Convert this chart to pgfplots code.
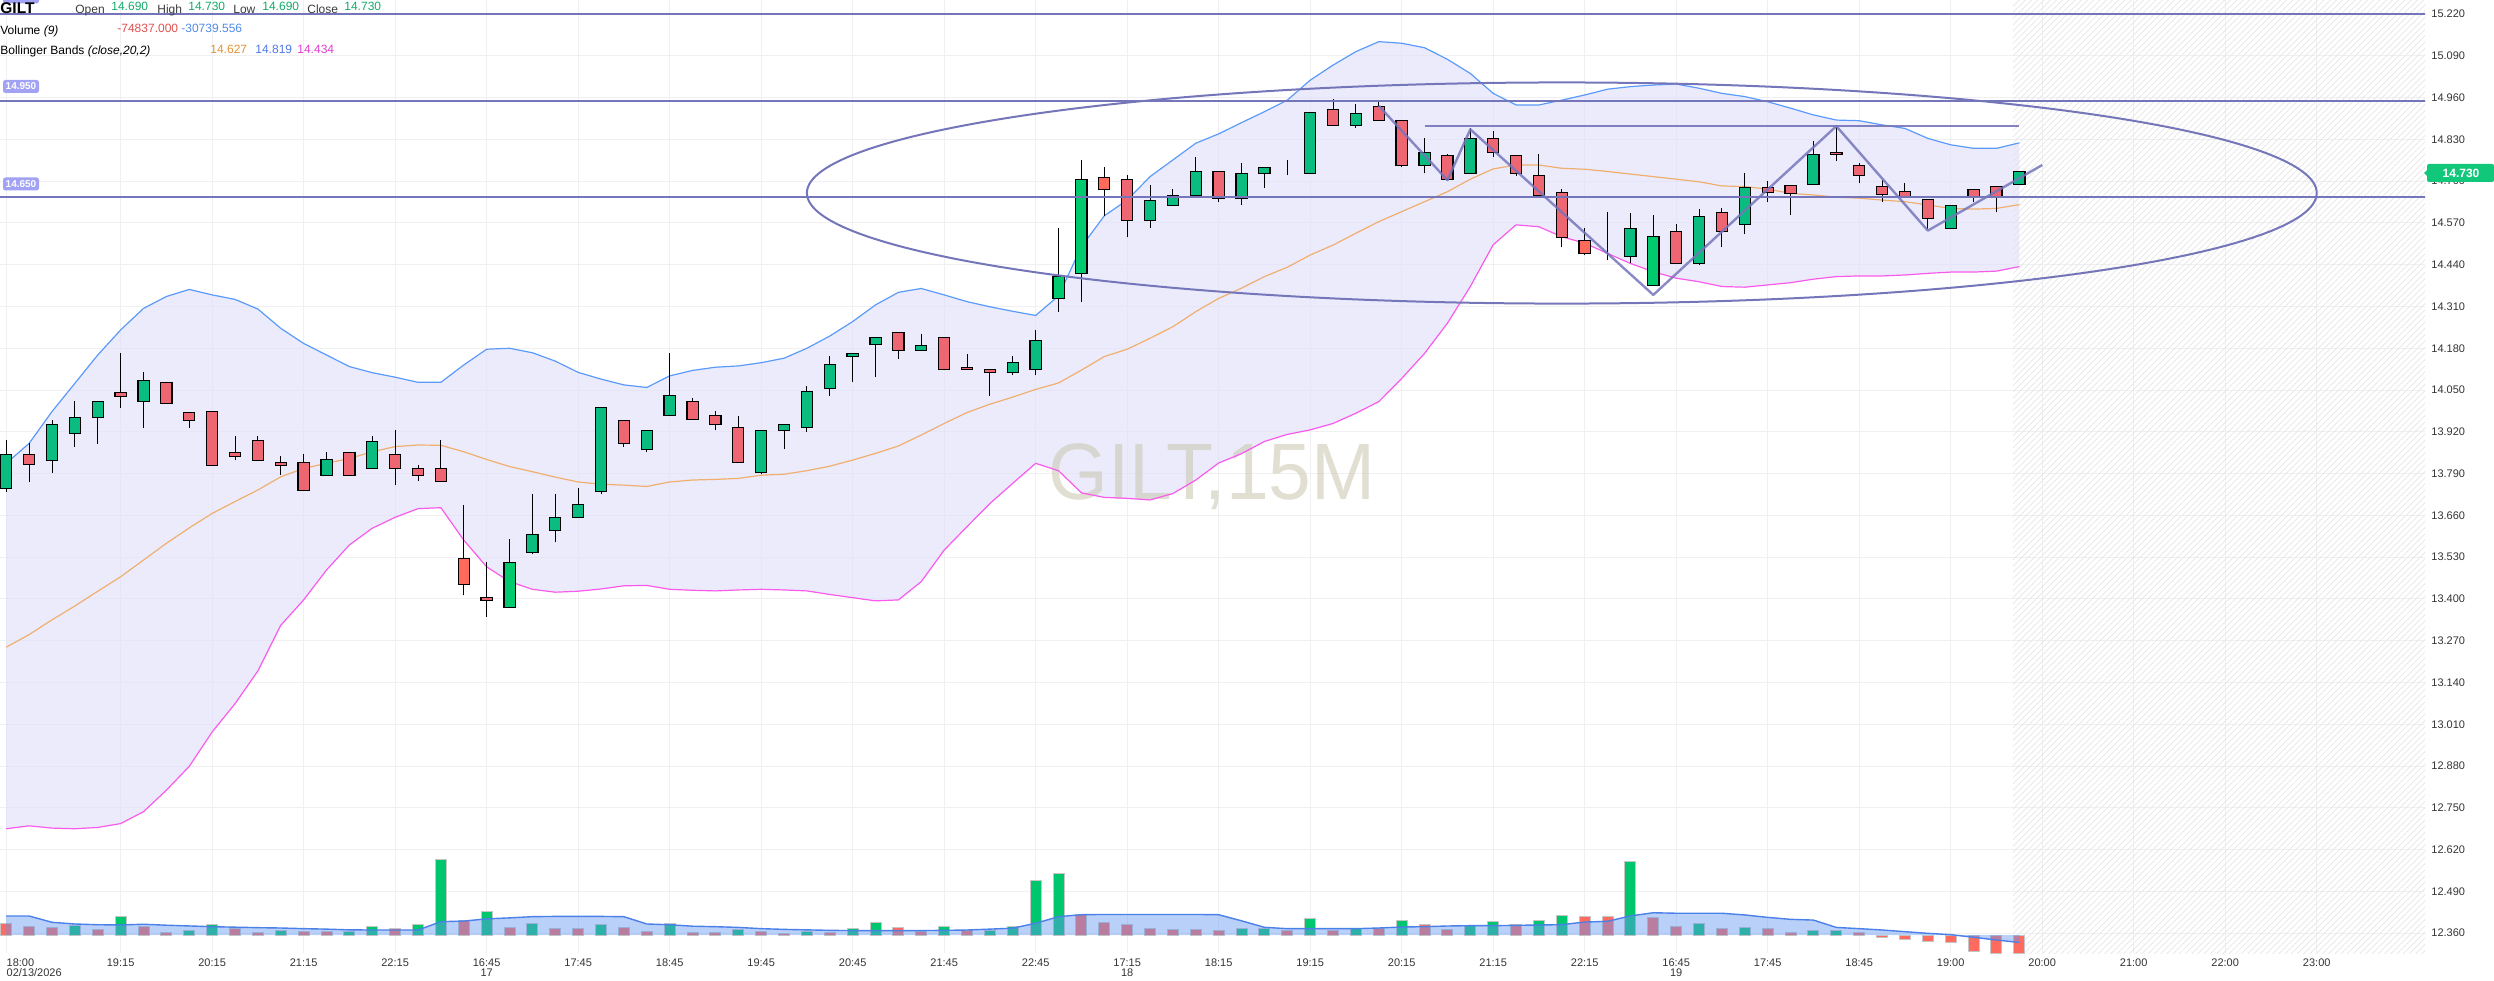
\documentclass[border=0pt]{standalone}
\usepackage{fontspec}
\setmainfont{Liberation Sans}
\usepackage{pgfplots}
\pgfplotsset{compat=1.18}
\usepackage{pgfplotstable}
\usepgfplotslibrary{fillbetween}
\usetikzlibrary{patterns.meta}

\definecolor{gridc}{RGB}{240,240,243}
\definecolor{bbfill}{RGB}{222,222,250}
\definecolor{bbup}{RGB}{90,155,250}
\definecolor{bbmid}{RGB}{240,175,110}
\definecolor{bblo}{RGB}{250,90,235}
\definecolor{cgreen}{RGB}{10,188,128}
\definecolor{cgreenhi}{RGB}{0,202,110}
\definecolor{cred}{RGB}{238,102,114}
\definecolor{credhi}{RGB}{255,106,90}
\definecolor{vgreen}{RGB}{0,198,110}
\definecolor{vred}{RGB}{255,107,94}
\definecolor{vborder}{RGB}{198,198,198}
\definecolor{vma}{RGB}{100,150,240}
\definecolor{vmaline}{RGB}{74,128,232}
\definecolor{tool}{RGB}{117,117,186}
\definecolor{tagc}{RGB}{162,162,245}
\definecolor{lastc}{RGB}{16,199,122}
\definecolor{txt}{RGB}{51,51,51}
\definecolor{legtxt}{RGB}{60,60,60}
\definecolor{hatchc}{RGB}{228,228,228}
\definecolor{wm}{RGB}{205,200,180}
\definecolor{lgreen}{RGB}{20,170,105}
\definecolor{lred}{RGB}{225,80,80}
\definecolor{lblue}{RGB}{80,140,230}
\definecolor{lorange}{RGB}{225,145,50}
\definecolor{lblue2}{RGB}{80,120,230}
\definecolor{lmag}{RGB}{225,60,210}

% 15-minute bars: index, open, high, low, close, highlight flag
\pgfplotstableread{
i o h l c hl
0 13.744 13.894 13.734 13.850 0
1 13.850 13.884 13.765 13.819 0
2 13.831 13.956 13.793 13.943 0
3 13.914 14.015 13.874 13.965 0
4 13.965 14.015 13.883 14.015 0
5 14.043 14.164 13.995 14.030 0
6 14.015 14.105 13.933 14.080 0
7 14.074 14.074 14.009 14.009 0
8 13.980 13.980 13.933 13.956 0
9 13.983 13.983 13.816 13.816 0
10 13.856 13.906 13.831 13.844 0
11 13.894 13.906 13.831 13.831 0
12 13.825 13.844 13.785 13.816 0
13 13.825 13.850 13.738 13.738 0
14 13.785 13.856 13.785 13.834 0
15 13.856 13.856 13.785 13.785 0
16 13.806 13.906 13.806 13.890 0
17 13.850 13.925 13.753 13.806 0
18 13.806 13.816 13.766 13.785 0
19 13.806 13.894 13.766 13.766 0
20 13.526 13.693 13.411 13.445 1
21 13.405 13.514 13.345 13.396 0
22 13.374 13.586 13.374 13.514 1
23 13.545 13.725 13.539 13.601 0
24 13.614 13.725 13.576 13.654 0
25 13.654 13.744 13.654 13.694 0
26 13.735 13.996 13.725 13.996 0
27 13.956 13.956 13.874 13.884 0
28 13.866 13.925 13.856 13.925 0
29 13.971 14.164 13.971 14.034 0
30 14.015 14.024 13.959 13.959 0
31 13.971 13.984 13.925 13.943 0
32 13.934 13.968 13.825 13.825 0
33 13.794 13.925 13.788 13.925 0
34 13.925 13.943 13.866 13.943 0
35 13.934 14.062 13.918 14.046 0
36 14.055 14.155 14.033 14.130 0
37 14.155 14.164 14.074 14.164 0
38 14.192 14.214 14.090 14.214 0
39 14.230 14.230 14.146 14.174 0
40 14.174 14.223 14.174 14.189 0
41 14.214 14.214 14.114 14.114 0
42 14.121 14.161 14.114 14.114 0
43 14.114 14.114 14.033 14.105 0
44 14.105 14.155 14.096 14.136 0
45 14.114 14.236 14.096 14.205 0
46 14.335 14.553 14.294 14.403 1
47 14.413 14.765 14.325 14.706 1
48 14.712 14.743 14.593 14.675 1
49 14.706 14.718 14.525 14.578 0
50 14.578 14.687 14.553 14.640 0
51 14.625 14.675 14.625 14.656 0
52 14.656 14.774 14.656 14.731 0
53 14.731 14.731 14.634 14.647 0
54 14.647 14.755 14.625 14.724 0
55 14.724 14.743 14.678 14.743 0
56 14.734 14.765 14.718 14.734 0
57 14.724 14.914 14.724 14.914 0
58 14.923 14.955 14.874 14.874 0
59 14.874 14.939 14.864 14.911 0
60 14.933 14.951 14.889 14.889 0
61 14.889 14.889 14.743 14.749 0
62 14.749 14.833 14.724 14.790 0
63 14.780 14.783 14.706 14.706 0
64 14.724 14.864 14.724 14.833 0
65 14.833 14.855 14.774 14.790 0
66 14.780 14.780 14.717 14.724 0
67 14.718 14.783 14.656 14.656 0
68 14.665 14.675 14.494 14.525 0
69 14.516 14.553 14.469 14.475 1
70 14.454 14.603 14.454 14.454 0
71 14.466 14.600 14.444 14.553 0
72 14.376 14.594 14.376 14.528 1
73 14.544 14.566 14.444 14.444 0
74 14.444 14.612 14.438 14.590 0
75 14.603 14.615 14.494 14.544 0
76 14.566 14.724 14.535 14.681 0
77 14.681 14.700 14.634 14.665 0
78 14.687 14.687 14.594 14.662 0
79 14.690 14.824 14.690 14.783 0
80 14.790 14.874 14.762 14.783 0
81 14.749 14.755 14.693 14.718 0
82 14.684 14.703 14.634 14.659 0
83 14.668 14.693 14.650 14.650 0
84 14.643 14.643 14.550 14.584 0
85 14.553 14.625 14.553 14.625 0
86 14.675 14.675 14.634 14.650 0
87 14.684 14.684 14.603 14.650 0
88 14.690 14.730 14.690 14.730 0
}\candles

% Bollinger Bands (close,20,2): upper, middle, lower
\pgfplotstableread{
i u m l
0 13.822 13.250 12.685
1 13.884 13.289 12.694
2 13.983 13.335 12.687
3 14.071 13.378 12.685
4 14.159 13.424 12.689
5 14.237 13.469 12.701
6 14.304 13.521 12.738
7 14.341 13.573 12.805
8 14.363 13.621 12.879
9 14.346 13.666 12.986
10 14.332 13.703 13.074
11 14.302 13.739 13.176
12 14.242 13.780 13.318
13 14.195 13.806 13.397
14 14.159 13.822 13.490
15 14.123 13.837 13.568
16 14.104 13.858 13.620
17 14.090 13.874 13.654
18 14.074 13.879 13.681
19 14.074 13.878 13.684
20 14.128 13.858 13.583
21 14.177 13.834 13.500
22 14.180 13.812 13.454
23 14.166 13.796 13.430
24 14.140 13.779 13.421
25 14.105 13.764 13.424
26 14.084 13.757 13.431
27 14.066 13.754 13.441
28 14.058 13.750 13.442
29 14.094 13.764 13.430
30 14.111 13.770 13.427
31 14.121 13.772 13.425
32 14.125 13.775 13.428
33 14.135 13.785 13.430
34 14.149 13.788 13.428
35 14.180 13.799 13.425
36 14.218 13.813 13.414
37 14.263 13.832 13.404
38 14.315 13.853 13.394
39 14.354 13.876 13.397
40 14.366 13.910 13.454
41 14.346 13.946 13.552
42 14.325 13.980 13.625
43 14.309 14.006 13.697
44 14.295 14.028 13.760
45 14.282 14.052 13.822
46 14.343 14.072 13.799
47 14.496 14.112 13.730
48 14.592 14.154 13.716
49 14.641 14.177 13.713
50 14.714 14.211 13.708
51 14.766 14.247 13.728
52 14.818 14.294 13.770
53 14.847 14.335 13.823
54 14.882 14.367 13.852
55 14.916 14.403 13.890
56 14.952 14.432 13.912
57 15.014 14.470 13.926
58 15.061 14.501 13.946
59 15.103 14.538 13.978
60 15.134 14.574 14.014
61 15.129 14.605 14.086
62 15.115 14.636 14.164
63 15.079 14.667 14.258
64 15.035 14.706 14.372
65 14.973 14.738 14.502
66 14.937 14.750 14.564
67 14.937 14.750 14.558
68 14.952 14.740 14.527
69 14.968 14.737 14.507
70 14.986 14.730 14.475
71 14.994 14.722 14.444
72 14.999 14.714 14.418
73 15.002 14.706 14.398
74 14.989 14.698 14.387
75 14.973 14.685 14.372
76 14.963 14.683 14.370
77 14.947 14.675 14.377
78 14.927 14.662 14.384
79 14.906 14.657 14.395
80 14.890 14.650 14.403
81 14.888 14.647 14.405
82 14.875 14.641 14.405
83 14.864 14.636 14.408
84 14.833 14.626 14.413
85 14.813 14.615 14.417
86 14.802 14.613 14.417
87 14.802 14.615 14.420
88 14.819 14.627 14.434
}\bands

% Volume (thousands), rising flag, 9-bar average
\pgfplotstableread{
i v up ma
0 47.7 0 77.7
1 36.8 0 77.7
2 31.4 0 52
3 39.5 1 45
4 23.2 0 42
5 75.0 1 41
6 34.1 0 44
7 10.9 0 40
8 20.4 1 37
9 43.6 1 34
10 27.3 0 32
11 10.9 0 30
12 20.4 1 28.6
13 15.0 0 26
14 15.0 0 24
15 15.0 1 21
16 34.1 1 20.4
17 25.9 0 20.4
18 42.3 1 20.4
19 310.8 1 54.5
20 61.3 0 57
21 95.4 1 66
22 31.4 0 70
23 45.0 1 75
24 27.3 0 76
25 27.3 0 76
26 42.3 1 76
27 31.4 0 75
28 15.0 0 45
29 47.7 1 42
30 10.9 0 36
31 10.9 0 34
32 23.2 1 31
33 15.0 0 26
34 6.8 0 23
35 15.0 1 21
36 9.5 0 19
37 25.9 1 18
38 51.8 1 18
39 31.4 0 18
40 13.6 0 18
41 34.1 1 19
42 20.4 0 20.4
43 20.4 1 24
44 36.8 1 28
45 222.2 1 48
46 250.9 1 75
47 84.5 0 83
48 50.4 0 84
49 42.3 0 84
50 27.3 0 84
51 23.2 0 84
52 23.2 0 84
53 20.4 0 83
54 27.3 1 58
55 25.9 1 31.4
56 17.7 0 25.9
57 66.8 1 25.9
58 17.7 0 25.9
59 28.6 1 25.9
60 25.9 0 28.6
61 61.3 1 32.7
62 42.3 0 34.1
63 23.2 0 36.8
64 39.5 1 38.2
65 54.5 1 38.2
66 42.3 0 39.5
67 61.3 1 40.9
68 81.8 1 42.3
69 77.7 0 53
70 75.0 0 56
71 299.9 1 78
72 70.9 0 91
73 34.1 0 89
74 45.0 1 89
75 25.9 0 89
76 30.0 1 82
77 25.9 0 72
78 10.9 0 64
79 17.7 1 61
80 17.7 1 31
81 9.5 0 26
82 -9.5 0 20.4
83 -17.7 0 13.6
84 -27.3 0 6.8
85 -31.4 0 1.4
86 -68.2 0 -9.5
87 -75.0 0 -20.4
88 -74.837 0 -30.7396
}\vol

\pgfplotsset{
  panel/.style={
    width=1212.5pt, height=476.5pt, scale only axis,
    at={(0pt,13.5pt)}, anchor=south west,
    xmin=-0.2732, xmax=105.734,
  },
  price/.style={panel, ymin=12.2984, ymax=15.2636},
}

\begin{document}
\begin{tikzpicture}

% price pane: grid, labels, bands, wicks
\begin{axis}[price,
  axis line style={draw=none}, major tick length=0pt,
  scaled y ticks=false,
  xtick={5,9,13,17,21,25,29,33,37,41,45,49,53,57,61,65,69,73,77,81,85,89,93,97,101},
  xticklabels={19:15,20:15,21:15,22:15,{16:45\\17},17:45,18:45,19:45,20:45,21:45,22:45,{17:15\\18},18:15,19:15,20:15,21:15,22:15,{16:45\\19},17:45,18:45,19:00,20:00,21:00,22:00,23:00},
  extra x ticks={0},
  extra x tick labels={{18:00\\02/13/2026}},
  extra x tick style={xticklabel style={anchor=north west, align=left}},
  xticklabel style={anchor=north, inner sep=0pt, yshift=-2.6pt, align=center,
    font=\fontsize{5.5}{5.1}\selectfont, text=txt},
  ytick={12.36,12.49,12.62,12.75,12.88,13.01,13.14,13.27,13.40,13.53,13.66,13.79,13.92,14.05,14.18,14.31,14.44,14.57,14.70,14.83,14.96,15.09,15.22},
  yticklabel pos=right,
  yticklabel style={anchor=west, inner sep=0pt, xshift=3pt,
    font=\fontsize{5.5}{6}\selectfont, text=txt,
    /pgf/number format/fixed, /pgf/number format/fixed zerofill,
    /pgf/number format/precision=3, /pgf/number format/assume math mode=true},
  grid=major, grid style={draw=gridc, line width=0.5pt},
]
\fill[pattern={Lines[angle=45,distance=2.2pt,line width=0.35pt]}, pattern color=hatchc]
  (rel axis cs:0.8301,0) rectangle (rel axis cs:1,1);
\addplot[draw=none, name path=bbU, forget plot] table[x=i,y=u]{\bands};
\addplot[draw=none, name path=bbL, forget plot] table[x=i,y=l]{\bands};
\addplot[fill=bbfill, fill opacity=0.6, draw=none] fill between[of=bbU and bbL];
\node[font=\fontsize{40}{40}\selectfont, text=wm, text opacity=0.6, xscale=0.96, anchor=base, inner sep=0pt]
  at (axis cs:52.71,13.708) {GILT,15M};
\addplot[bbmid, line width=0.6pt] table[x=i,y=m]{\bands};
\addplot[bbup, line width=0.6pt] table[x=i,y=u]{\bands};
\addplot[bblo, line width=0.6pt] table[x=i,y=l]{\bands};
% wicks
\addplot[draw=none, error bars/.cd, y dir=plus, y explicit, error mark=none,
  error bar style={draw=black, line width=0.5pt}]
  table[x=i, y=l, y error plus expr={\thisrow{h}-\thisrow{l}}]{\candles};
\end{axis}

% volume pane
\begin{axis}[panel, hide axis, ymin=-73.62, ymax=3824.15]
\addplot[ybar, bar width=5.5pt, bar shift=0pt, fill=vgreen, draw=vborder, line width=0.5pt,
  restrict expr to domain={\thisrow{up}}{0.5:1.5}] table[x=i,y=v]{\vol};
\addplot[ybar, bar width=5.5pt, bar shift=0pt, fill=vred, draw=vborder, line width=0.5pt,
  restrict expr to domain={\thisrow{up}}{-0.5:0.5}] table[x=i,y=v]{\vol};
\addplot[draw=none, fill=vma, fill opacity=0.45] table[x=i,y=ma]{\vol} \closedcycle;
\addplot[vmaline, line width=0.7pt] table[x=i,y=ma]{\vol};
\end{axis}

% candle bodies
\begin{axis}[price, hide axis, ybar stacked, bar width=5.6pt]
\addplot[draw=none, fill=none] table[x=i, y expr={min(\thisrow{o},\thisrow{c})}]{\candles};
\addplot[draw=black, line width=0.6pt, fill=cgreen]
  table[x=i, y expr={(1-\thisrow{hl})*max(\thisrow{c}-\thisrow{o},0)}]{\candles};
\addplot[draw=black, line width=0.6pt, fill=cgreenhi]
  table[x=i, y expr={\thisrow{hl}*max(\thisrow{c}-\thisrow{o},0)}]{\candles};
\addplot[draw=black, line width=0.6pt, fill=cred]
  table[x=i, y expr={(1-\thisrow{hl})*max(\thisrow{o}-\thisrow{c},0)}]{\candles};
\addplot[draw=black, line width=0.6pt, fill=credhi]
  table[x=i, y expr={\thisrow{hl}*max(\thisrow{o}-\thisrow{c},0)}]{\candles};
\end{axis}

% drawing tools
\begin{axis}[price, hide axis]
\addplot[tool, line width=1pt] coordinates {(-1,15.22) (106,15.22)};
\addplot[tool, line width=1pt] coordinates {(-1,14.95) (106,14.95)};
\addplot[tool, line width=1pt] coordinates {(-1,14.65) (106,14.65)};
\addplot[tool, line width=1pt, opacity=0.9] coordinates {(62,14.87) (88,14.87)};
\addplot[tool, line width=1.2pt, opacity=0.85, line join=round]
  coordinates {(60,14.934) (63,14.703) (64,14.861) (72,14.346) (80,14.871) (84,14.546) (89,14.750)};
\draw[tool, line width=1pt] (axis cs:68,14.663) ellipse [x radius=33, y radius=0.344];
\end{axis}

% price tags
\fill[tagc, rounded corners=1.2pt] (1.5pt,488.25pt) rectangle (19.5pt,494.75pt);
\fill[tagc, rounded corners=1.2pt] (1.5pt,443.5pt) rectangle (19.5pt,450pt);
\node[text=white, font=\bfseries\fontsize{5}{5}\selectfont, inner sep=0pt] at (10.5pt,446.75pt) {14.950};
\fill[tagc, rounded corners=1.2pt] (1.5pt,394.75pt) rectangle (19.5pt,401.25pt);
\node[text=white, font=\bfseries\fontsize{5}{5}\selectfont, inner sep=0pt] at (10.5pt,398pt) {14.650};
\fill[lastc, rounded corners=1pt] (1213.5pt,399pt) rectangle (1247pt,408pt);
\fill[lastc] (1214pt,405.5pt) -- (1212pt,403.5pt) -- (1214pt,401.5pt) -- cycle;
\node[text=white, font=\bfseries\fontsize{6}{6}\selectfont, inner sep=0pt] at (1230.5pt,403.5pt) {14.730};

% legend
\begin{scope}[every node/.style={inner sep=0pt, anchor=base west}]
\node[font=\bfseries\fontsize{7.75}{8}\selectfont] at (0pt,483.3pt) {GILT};
\node[font=\fontsize{6}{7}\selectfont, text=legtxt] at (37.5pt,483.3pt) {Open};
\node[font=\fontsize{6}{7}\selectfont, text=lgreen] at (55.5pt,484.6pt) {14.690};
\node[font=\fontsize{6}{7}\selectfont, text=legtxt] at (78.5pt,483.3pt) {High};
\node[font=\fontsize{6}{7}\selectfont, text=lgreen] at (94pt,484.6pt) {14.730};
\node[font=\fontsize{6}{7}\selectfont, text=legtxt] at (116.5pt,483.3pt) {Low};
\node[font=\fontsize{6}{7}\selectfont, text=lgreen] at (131pt,484.6pt) {14.690};
\node[font=\fontsize{6}{7}\selectfont, text=legtxt] at (153.5pt,483.3pt) {Close};
\node[font=\fontsize{6}{7}\selectfont, text=lgreen] at (172pt,484.6pt) {14.730};
\node[font=\fontsize{6}{7}\selectfont] at (0pt,472.5pt) {Volume \textit{(9)}};
\node[font=\fontsize{6}{7}\selectfont, text=lred] at (58.5pt,473.8pt) {-74837.000};
\node[font=\fontsize{6}{7}\selectfont, text=lblue] at (90.5pt,473.8pt) {-30739.556};
\node[font=\fontsize{6}{7}\selectfont] at (0pt,462.5pt) {Bollinger Bands \textit{(close,20,2)}};
\node[font=\fontsize{6}{7}\selectfont, text=lorange] at (105pt,463.3pt) {14.627};
\node[font=\fontsize{6}{7}\selectfont, text=lblue2] at (127.5pt,463.3pt) {14.819};
\node[font=\fontsize{6}{7}\selectfont, text=lmag] at (148.5pt,463.3pt) {14.434};
\end{scope}

\pgfresetboundingbox
\useasboundingbox (0,0) rectangle (1247pt,490pt);
\end{tikzpicture}
\end{document}
